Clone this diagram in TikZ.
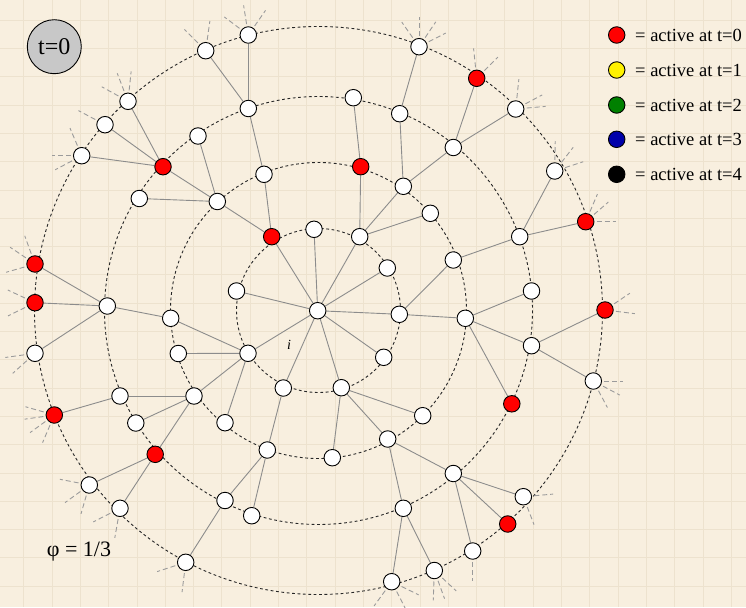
\documentclass[tikz,border=0pt]{standalone}
\usepackage{fontspec}
\setmainfont{Liberation Serif}
\definecolor{bgc}{RGB}{248,239,223}
\definecolor{gridc}{RGB}{237,226,206}
\definecolor{edgec}{RGB}{140,140,140}
\definecolor{stubc}{RGB}{155,155,155}
\definecolor{tgray}{RGB}{200,200,200}
\definecolor{legblue}{RGB}{0,0,170}
\definecolor{leggreen}{RGB}{0,128,0}
\pgfdeclarelayer{paper}
\pgfdeclarelayer{links}
\pgfsetlayers{paper,links,main}
\tikzset{
  wn/.style={circle, draw=black, fill=white, line width=0.9pt, minimum size=16.5pt, inner sep=0pt},
  rn/.style={wn, fill=red},
  lnk/.style={draw=edgec, line width=0.9pt},
  stubline/.style={draw=stubc, line width=0.9pt, dash pattern=on 5pt off 3pt},
  ring/.style={draw=black!85, line width=0.9pt, dash pattern=on 2.8pt off 2.6pt},
  gridline/.style={draw=gridc, line width=0.6pt},
  legtext/.style={anchor=west, inner sep=0pt, font=\fontsize{18.5}{22}\selectfont}
}
\begin{document}
\begin{tikzpicture}[x=1pt,y=-1pt]
\useasboundingbox (0,0) rectangle (746,607);
\begin{pgfonlayer}{paper}
\fill[bgc] (0,0) rectangle (746,607);
\begin{scope}
\clip (0,0) rectangle (746,607);
\foreach \k in {0,...,26} \draw[gridline] ({23.6+28.3*\k},0) -- ++(0,607);
\foreach \k in {0,...,21} \draw[gridline] (0,{20+28.3*\k}) -- ++(746,0);
\end{scope}
\end{pgfonlayer}

\coordinate (o) at (318.5,310.5);

% centre
\node[wn] (c) at (317.7,310.7) {};
% ring 1
\node[rn] (a1) at (271.7,236.7) {};
\node[wn] (a2) at (314,229.3) {};
\node[wn] (a3) at (359.7,236.7) {};
\node[wn] (a4) at (387.3,268) {};
\node[wn] (a5) at (399.3,314.3) {};
\node[wn] (a6) at (383.7,357.3) {};
\node[wn] (a7) at (341.3,387.7) {};
\node[wn] (a8) at (283.3,388) {};
\node[wn] (a9) at (248,353.3) {};
\node[wn] (a10) at (236.5,291) {};
% ring 2
\node[wn] (b1) at (264,174.3) {};
\node[rn] (b2) at (360.7,166.7) {};
\node[wn] (b3) at (403.3,186.3) {};
\node[wn] (b4) at (430.3,213.3) {};
\node[wn] (b5) at (453.3,260) {};
\node[wn] (b6) at (465.3,318.3) {};
\node[wn] (b7) at (422.7,415.7) {};
\node[wn] (b8) at (387.7,439) {};
\node[wn] (b9) at (332.3,457.7) {};
\node[wn] (b10) at (267.3,450) {};
\node[wn] (b11) at (225,422.7) {};
\node[wn] (b12) at (194,396) {};
\node[wn] (b13) at (178.3,353.5) {};
\node[wn] (b14) at (170.7,318.3) {};
\node[wn] (b15) at (217.3,201.5) {};
% ring 3
\node[wn] (d1) at (248.3,108.5) {};
\node[wn] (d2) at (353.3,97.7) {};
\node[wn] (d3) at (399.7,113.7) {};
\node[wn] (d4) at (453.3,147.5) {};
\node[wn] (d5) at (519.7,236.7) {};
\node[wn] (d6) at (531.5,291) {};
\node[wn] (d7) at (531.5,345.7) {};
\node[rn] (d8) at (511.8,403.8) {};
\node[wn] (d9) at (453.3,473.5) {};
\node[wn] (d10) at (403.3,508.3) {};
\node[wn] (d11) at (251.7,515.7) {};
\node[wn] (d12) at (225,500.5) {};
\node[rn] (d13) at (155.2,454.3) {};
\node[wn] (d14) at (135.8,423) {};
\node[wn] (d15) at (120,396) {};
\node[wn] (d16) at (107.3,306) {};
\node[wn] (d17) at (139.3,198.5) {};
\node[rn] (d18) at (163,166.7) {};
\node[wn] (d19) at (198,136) {};
% ring 4
\node[wn] (e1) at (205.7,50.7) {};
\node[wn] (e2) at (248.3,35) {};
\node[wn] (e3) at (419,46.7) {};
\node[rn] (e4) at (476.7,78.3) {};
\node[wn] (e5) at (515.7,109) {};
\node[wn] (e6) at (554.7,171) {};
\node[rn] (e7) at (585.7,221.7) {};
\node[rn] (e8) at (605,310) {};
\node[wn] (e9) at (593.3,381) {};
\node[wn] (e10) at (523.3,496.7) {};
\node[rn] (e11) at (507.7,524) {};
\node[wn] (e12) at (472.7,551) {};
\node[wn] (e13) at (434.3,570.5) {};
\node[wn] (e14) at (391.7,581.7) {};
\node[wn] (e15) at (185.7,562.3) {};
\node[wn] (e16) at (120,508.3) {};
\node[wn] (e17) at (89.3,485) {};
\node[rn] (e18) at (54.3,415) {};
\node[wn] (e19) at (35,353.3) {};
\node[rn] (e20) at (35,302.7) {};
\node[rn] (e21) at (35,264) {};
\node[wn] (e22) at (81.7,155.7) {};
\node[wn] (e23) at (105,124.7) {};
\node[wn] (e24) at (128,101.3) {};

\begin{pgfonlayer}{links}
\draw[ring] (o) circle[radius=82];
\draw[ring] (o) circle[radius=148];
\draw[ring] (o) circle[radius=214];
\draw[ring] (o) circle[radius=284];
\foreach \n in {a1,a2,a3,a4,a5,a6,a7,a8,a9,a10} \draw[lnk] (c) -- (\n);
\foreach \s/\t in {a1/b1,a1/b15,a3/b2,a3/b3,a3/b4,a5/b5,a5/b6,a7/b7,a7/b8,a7/b9,a8/b10,
  a9/b11,a9/b12,a9/b13,a9/b14,b1/d1,b2/d2,b3/d3,b3/d4,b5/d5,b6/d6,b6/d7,b6/d8,b8/d9,b8/d10,
  b10/d11,b10/d12,b12/d13,b12/d14,b12/d15,b14/d16,b15/d17,b15/d18,b15/d19,
  d1/e1,d1/e2,d3/e3,d4/e4,d4/e5,d5/e6,d5/e7,d7/e8,d7/e9,d9/e10,d9/e11,d9/e12,
  d10/e13,d10/e14,d12/e15,d13/e16,d13/e17,d15/e18,d16/e19,d16/e20,d16/e21,
  d18/e22,d18/e23,d18/e24}
  \draw[lnk] (\s) -- (\t);
\foreach \n/\angles in {e1/{-135,-82},e2/{-143,-99,-55},e3/{-125,-90,-56,-27},e4/{-96,-45},
  e5/{-84,-28,-5},e6/{-89,-52,-18},e7/{-67,-41,0},e8/{-34,7},e9/{0,28,62},e10/{-5,69},
  e12/{90},e13/{43,70,92},e14/{26,63,126},e15/{97,162},e16/{100,153},e17/{106,144,191},
  e18/{113,144,172,196},e19/{138,172},e20/{154,205},e21/{164,214,250},e22/{152,180,247},
  e23/{208},e24/{209,249,276}}
  \foreach \a in \angles \draw[stubline] (\n) ++(\a:11) -- ++(\a:19);
\end{pgfonlayer}

\node[font=\itshape\fontsize{14}{16}\selectfont] (ilab) at (289,345) {i};

\node[circle, draw=black, fill=tgray, line width=0.9pt, minimum size=54pt, inner sep=0pt,
  font=\fontsize{24}{28}\selectfont] (tzero) at (54.3,46.7) {t=0};

\node[font=\fontsize{22}{26}\selectfont] (phi) at (79,552) {φ = 1/3};

\node[wn, fill=red] (l0) at (616.7,35) {};
\node[wn, fill=yellow] (l1) at (616.7,70) {};
\node[wn, fill=leggreen] (l2) at (616.7,105) {};
\node[wn, fill=legblue] (l3) at (616.7,139.3) {};
\node[wn, fill=black] (l4) at (616.7,174.3) {};
\node[legtext] (t0) at (635,35) {= active at t=0};
\node[legtext] (t1) at (635,70) {= active at t=1};
\node[legtext] (t2) at (635,105) {= active at t=2};
\node[legtext] (t3) at (635,139.3) {= active at t=3};
\node[legtext] (t4) at (635,174.3) {= active at t=4};
\end{tikzpicture}
\end{document}
